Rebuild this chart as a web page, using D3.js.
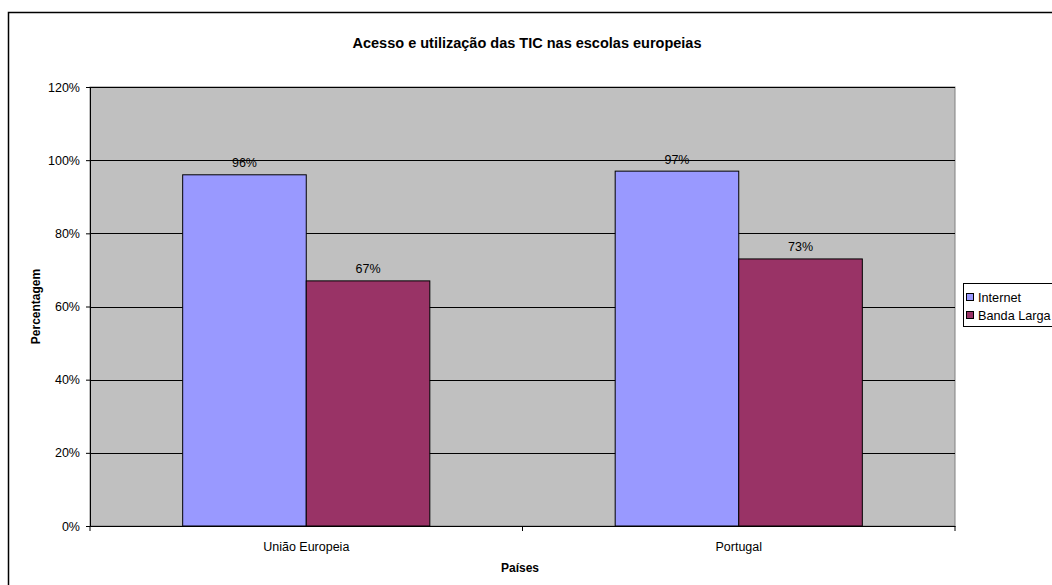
<!DOCTYPE html>
<html>
<head>
<meta charset="utf-8">
<script src="https://cdn.jsdelivr.net/npm/d3@7"></script>
<style>
  body { margin: 0; background: #fff; }
  text { font-family: "Liberation Sans", Arial, sans-serif; fill: #000; }
</style>
</head>
<body>
<svg id="chart" width="1052" height="585"></svg>
<script>
// data
var categories = ["União Europeia", "Portugal"];
var seriesNames = ["Internet", "Banda Larga"];
var internet = [96, 97];
var bandaLarga = [67, 73];
var yTicks = [0, 20, 40, 60, 80, 100, 120];

var colors = ["#9999ff", "#993366"];
var series = [internet, bandaLarga];

var svg = d3.select("#chart");

// outer chart border
svg.append("rect")
    .attr("x", 8.5).attr("y", 12.5)
    .attr("width", 1060).attr("height", 600)
    .attr("fill", "#fff")
    .attr("stroke", "#000").attr("stroke-width", 1.5);

var plot = {left: 90, right: 955, top: 87, bottom: 526};

var x = d3.scaleBand()
    .domain(categories)
    .range([plot.left, plot.right]);

var y = d3.scaleLinear()
    .domain([0, 120])
    .range([plot.bottom, plot.top]);

// plot area
svg.append("rect")
    .attr("x", plot.left).attr("y", plot.top)
    .attr("width", plot.right - plot.left).attr("height", plot.bottom - plot.top)
    .attr("fill", "#c0c0c0")
    .attr("stroke", "#808080").attr("stroke-width", 1);

// gridlines
svg.append("g").selectAll("line")
    .data(yTicks.filter(function(d) { return d > 0; }))
    .join("line")
    .attr("x1", plot.left).attr("x2", plot.right)
    .attr("y1", function(d) { return Math.round(y(d)) + 0.5; })
    .attr("y2", function(d) { return Math.round(y(d)) + 0.5; })
    .attr("stroke", "#000").attr("stroke-width", 1);

// bars: gap width 150% like excel
var barW = x.bandwidth() / 3.5;
series.forEach(function(vals, si) {
    svg.append("g").selectAll("rect")
        .data(vals)
        .join("rect")
        .attr("x", function(d, i) { return x(categories[i]) + x.bandwidth() / 2 - barW + si * barW; })
        .attr("y", function(d) { return y(d); })
        .attr("width", barW)
        .attr("height", function(d) { return y(0) - y(d); })
        .attr("fill", colors[si])
        .attr("stroke", "#000").attr("stroke-width", 1);

    svg.append("g").selectAll("text")
        .data(vals)
        .join("text")
        .attr("x", function(d, i) { return x(categories[i]) + x.bandwidth() / 2 - barW / 2 + si * barW; })
        .attr("y", function(d) { return y(d) - 7.5; })
        .attr("text-anchor", "middle")
        .attr("font-size", 12.5)
        .text(function(d) { return d + "%"; });
});

// y axis
var yAxis = svg.append("g")
    .attr("transform", "translate(" + plot.left + ",0)")
    .call(d3.axisLeft(y).tickValues(yTicks).tickSize(4).tickPadding(6)
        .tickFormat(function(d) { return d + "%"; }));
yAxis.selectAll("text").attr("font-size", 12.5).attr("font-family", "Liberation Sans, Arial, sans-serif");
yAxis.select(".domain").attr("stroke", "#000");

// x axis
var xAxis = svg.append("g")
    .attr("transform", "translate(0," + plot.bottom + ")")
    .call(d3.axisBottom(x).tickSize(0).tickPadding(16));
xAxis.selectAll("text").attr("font-size", 12.5).attr("font-family", "Liberation Sans, Arial, sans-serif");
xAxis.select(".domain").attr("stroke", "#000");
xAxis.append("g").selectAll("line")
    .data([plot.left, (plot.left + plot.right) / 2, plot.right])
    .join("line")
    .attr("x1", function(d) { return d; }).attr("x2", function(d) { return d; })
    .attr("y1", 0).attr("y2", 5)
    .attr("stroke", "#000");

// titles
svg.append("text")
    .attr("x", 527).attr("y", 48)
    .attr("text-anchor", "middle")
    .attr("font-size", 14.5).attr("font-weight", "bold")
    .text("Acesso e utilização das TIC nas escolas europeias");

svg.append("text")
    .attr("x", 520).attr("y", 572)
    .attr("text-anchor", "middle")
    .attr("font-size", 12).attr("font-weight", "bold")
    .text("Países");

svg.append("text")
    .attr("transform", "translate(40," + (plot.top + plot.bottom) / 2 + ") rotate(-90)")
    .attr("text-anchor", "middle")
    .attr("font-size", 12).attr("font-weight", "bold")
    .text("Percentagem");

// legend
var legend = svg.append("g").attr("transform", "translate(963,283)");
legend.append("rect")
    .attr("x", 0.5).attr("y", 0.5)
    .attr("width", 100).attr("height", 43)
    .attr("fill", "#fff").attr("stroke", "#000");
seriesNames.forEach(function(name, i) {
    legend.append("rect")
        .attr("x", 3.5).attr("y", 10.5 + i * 18)
        .attr("width", 7).attr("height", 7)
        .attr("fill", colors[i]).attr("stroke", "#000");
    legend.append("text")
        .attr("x", 15).attr("y", 19 + i * 18)
        .attr("font-size", 12.7)
        .text(name);
});
</script>
</body>
</html>
